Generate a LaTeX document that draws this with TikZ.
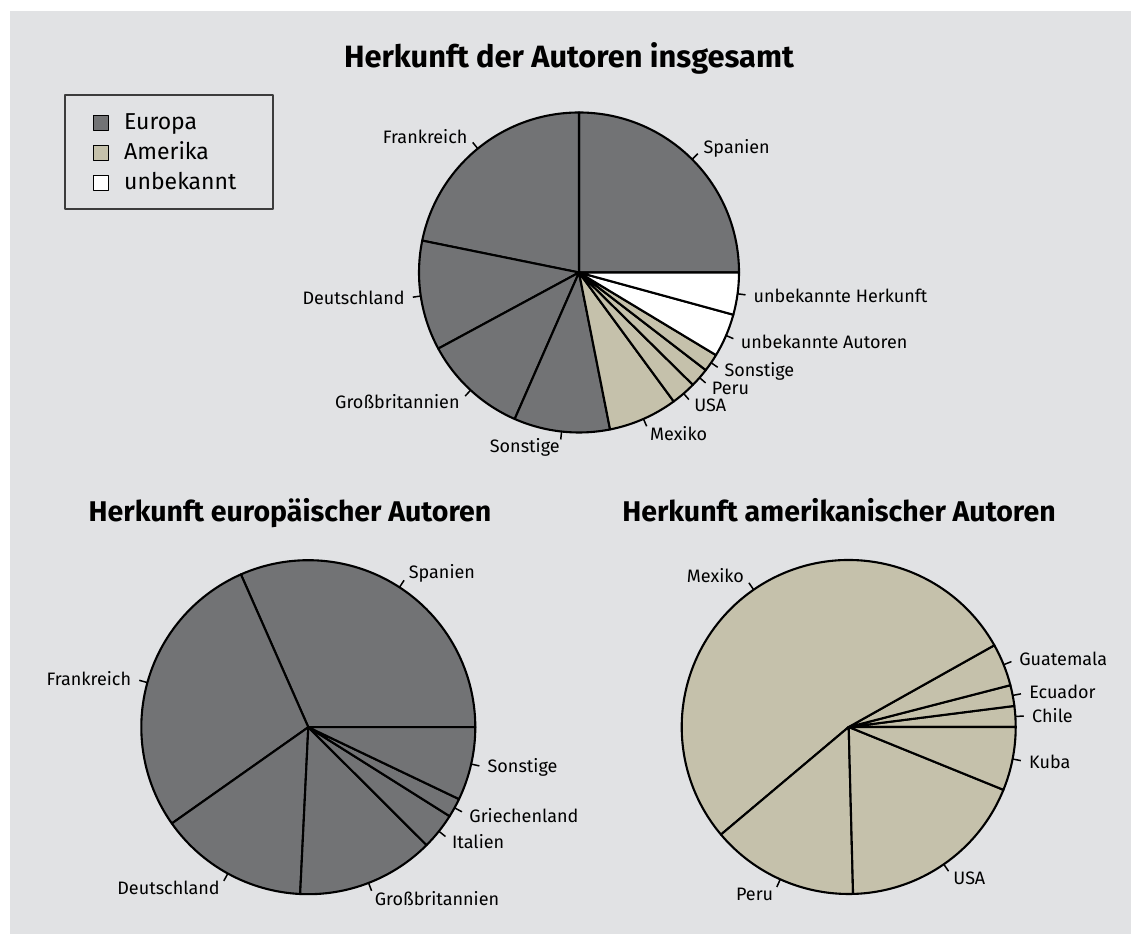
\documentclass[tikz,border=0pt]{standalone}
\usepackage{fontspec}
\setmainfont{Fira Sans}
\usepackage{tikz}
\usetikzlibrary{positioning}
\usepackage{xcolor}
\definecolor{EuroGray}{HTML}{727375}
\definecolor{AmerTan}{HTML}{C5C1AB}
\definecolor{PanelGray}{HTML}{E1E2E4}
\definecolor{FrameGray}{HTML}{3C3C3C}

\begin{document}
\begin{tikzpicture}[x=1pt,y=1pt,line join=round,
  slice/.style={draw=black,line width=2.1pt},
  tick/.style={draw=black,line width=1.5pt},
  lbl/.style={inner sep=0pt,font=\fontsize{18}{21}\selectfont},
  ttl/.style={anchor=base,inner sep=0pt,font=\fontsize{30.8}{35}\selectfont\bfseries},
  subttl/.style={ttl,font=\fontsize{28.5}{33}\selectfont\bfseries},
  keybox/.style={draw=black,line width=1.2pt,minimum size=15pt,inner sep=0pt},
  keytxt/.style={anchor=base west,inner sep=0pt,font=\fontsize{23}{26}\selectfont}]
\useasboundingbox (0,0) rectangle (1131,934);
\fill[PanelGray] (10,0) rectangle (1131,923);

% titles
\node[ttl] (ttop) at (569,866.7) {Herkunft der Autoren insgesamt};
\node[subttl] (teur) at (290,412) {Herkunft europäischer Autoren};
\node[subttl] (tame) at (839,412) {Herkunft amerikanischer Autoren};

% legend
\node[draw=FrameGray,line width=1.3pt,minimum width=208pt,minimum height=114pt] (key) at (169,782) {};
\node[keybox,fill=EuroGray] (k1) at (100.8,811.3) {};
\node[keybox,fill=AmerTan] (k2) at (100.8,780.7) {};
\node[keybox,fill=white] (k3) at (100.8,750.7) {};
\node[keytxt] (e1) at (124,804) {Europa};
\node[keytxt] (e2) at (124,774) {Amerika};
\node[keytxt] (e3) at (124,744) {unbekannt};

% pie: insgesamt
\coordinate (c0) at (579,661.5);
\foreach \a/\b/\col in {0/90/EuroGray,90/168.5/EuroGray,168.5/208.4/EuroGray,
    208.4/246.3/EuroGray,246.3/281.2/EuroGray,281.2/306.3/AmerTan,306.3/315.4/AmerTan,
    315.4/322.4/AmerTan,322.4/328.9/AmerTan,328.9/344.7/white,344.7/360/white}
  \filldraw[slice,fill=\col] (c0) -- ++(\a:160) arc[start angle=\a,end angle=\b,radius=160] -- cycle;
\foreach \m/\anc/\txt [count=\i] in {45/west/Spanien,129.25/east/Frankreich,
    188.45/east/Deutschland,227.35/east/Großbritannien,263.75/east/Sonstige,
    293.75/west/Mexiko,310.85/west/USA,318.9/west/Peru,325.65/west/Sonstige,
    336.8/west/unbekannte Autoren,352.35/west/unbekannte Herkunft}{
  \draw[tick] ([shift={(\m:160)}]c0) -- ([shift={(\m:168)}]c0);
  \node[lbl,anchor=\anc] (a\i) at ([shift={(\m:176)}]c0) {\txt};
}

% pie: europa
\coordinate (c1) at (308.3,206.8);
\foreach \a/\b in {0/113.8,113.8/215.2,215.2/267.2,267.2/315.1,315.1/327.8,327.8/334.5,334.5/360}
  \filldraw[slice,fill=EuroGray] (c1) -- ++(\a:167) arc[start angle=\a,end angle=\b,radius=167] -- cycle;
\foreach \m/\anc/\txt [count=\i] in {56.9/west/Spanien,164.5/east/Frankreich,
    241.2/east/Deutschland,291.15/west/Großbritannien,321.45/west/Italien,
    331.15/west/Griechenland,347.25/west/Sonstige}{
  \draw[tick] ([shift={(\m:167)}]c1) -- ([shift={(\m:175.4)}]c1);
  \node[lbl,anchor=\anc] (b\i) at ([shift={(\m:183.7)}]c1) {\txt};
}

% pie: amerika
\coordinate (c2) at (848.7,207);
\foreach \a/\b in {0/7.25,7.25/14.5,14.5/29.3,29.3/220.1,220.1/271.5,271.5/337.9,337.9/360}
  \filldraw[slice,fill=AmerTan] (c2) -- ++(\a:167) arc[start angle=\a,end angle=\b,radius=167] -- cycle;
\foreach \m/\anc/\txt [count=\i] in {3.6/west/Chile,10.9/west/Ecuador,
    21.9/west/Guatemala,124.7/east/Mexiko,245.8/east/Peru,
    304.7/west/USA,348.95/west/Kuba}{
  \draw[tick] ([shift={(\m:167)}]c2) -- ([shift={(\m:175.4)}]c2);
  \node[lbl,anchor=\anc] (d\i) at ([shift={(\m:183.7)}]c2) {\txt};
}
\end{tikzpicture}
\end{document}
